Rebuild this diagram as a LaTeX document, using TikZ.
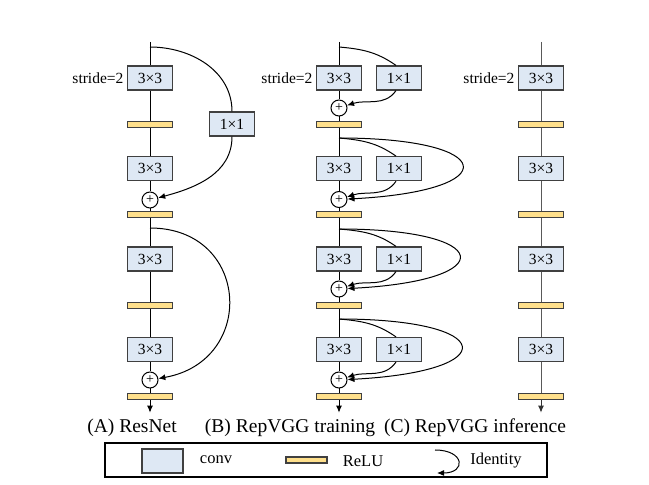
\documentclass[tikz,border=0pt]{standalone}
\usepackage{fontspec}
\setmainfont{Liberation Serif}
\usetikzlibrary{positioning,arrows.meta}
\definecolor{convfill}{HTML}{DEE8F4}
\definecolor{convline}{HTML}{404040}
\definecolor{relufill}{HTML}{FFE08C}

\begin{document}
\begin{tikzpicture}[x=1pt,y=1pt,line width=1pt,>={Latex[length=7pt,width=6pt]},
    conv/.style={draw=convline,fill=convfill,line width=1.2pt,minimum width=45pt,
                 minimum height=24pt,inner sep=0pt,font=\fontsize{15.5}{16}\selectfont},
    relu/.style={draw=convline,fill=relufill,line width=1.2pt,minimum width=45pt,
                 minimum height=6pt,inner sep=0pt},
    addnode/.style={circle,draw,fill=white,minimum size=16pt,inner sep=0pt,
                 font=\fontsize{14}{14}\selectfont},
    stridelab/.style={inner sep=1pt,font=\fontsize{15.5}{16}\selectfont},
    titlelab/.style={inner sep=1pt,font=\fontsize{19.5}{20}\selectfont},
    legendlab/.style={inner sep=1pt,font=\fontsize{16.5}{17}\selectfont}]
    \useasboundingbox (0,0) rectangle (649,485);

    % (A) ResNet
    \coordinate (at)  at (150,443);
    \coordinate (sa1) at (150,438);
    \node[conv] (a1) at (150,407) {3×3};
    \node[stridelab,left=2pt of a1] (as) {stride=2};
    \node[conv] (ax1) at (232,361) {1×1};
    \node[relu] (ar1) at (150,360.5) {};
    \node[conv] (a2) at (150,316.3) {3×3};
    \node[addnode] (aadd1) at (150,285) {+};
    \node[relu] (ar2) at (150,270.6) {};
    \coordinate (sa2) at (150,257);
    \node[conv] (a3) at (150,226) {3×3};
    \node[relu] (ar3) at (150,179.5) {};
    \node[conv] (a4) at (150,135.5) {3×3};
    \node[addnode] (aadd2) at (150,105) {+};
    \node[relu] (ar4) at (150,88.5) {};
    \coordinate (aend) at (150,72.3);
    \draw (at) -- (a1) -- (ar1) -- (a2) -- (aadd1) -- (ar2) -- (a3) -- (ar3) -- (a4) -- (aadd2) -- (ar4);
    \draw[->] (ar4) -- (aend);
    \draw (sa1) to[out=0,in=90] (ax1.north);
    \draw[->] (ax1.south) to[out=-90,in=15] (aadd1);
    \draw[->] (sa2) to[out=0,in=10,looseness=1.7] (aadd2);

    % (B) RepVGG training
    \coordinate (bt)  at (339,443);
    \coordinate (sb1) at (339,438);
    \node[conv] (b1)  at (339,407) {3×3};
    \node[conv] (bx1) at (399,407) {1×1};
    \node[stridelab,left=2pt of b1] (bs) {stride=2};
    \node[addnode] (badd1) at (339,377) {+};
    \node[relu] (br1) at (339,360.5) {};
    \coordinate (sb2) at (339,347);
    \node[conv] (b2)  at (339,316.3) {3×3};
    \node[conv] (bx2) at (399,316.3) {1×1};
    \node[addnode] (badd2) at (339,285.5) {+};
    \node[relu] (br2) at (339,270.6) {};
    \coordinate (sb3) at (339,256);
    \node[conv] (b3)  at (339,226) {3×3};
    \node[conv] (bx3) at (399,226) {1×1};
    \node[addnode] (badd3) at (339,196) {+};
    \node[relu] (br3) at (339,179.5) {};
    \coordinate (sb4) at (339,166);
    \node[conv] (b4)  at (339,135.5) {3×3};
    \node[conv] (bx4) at (399,135.5) {1×1};
    \node[addnode] (badd4) at (339,105) {+};
    \node[relu] (br4) at (339,88.5) {};
    \coordinate (bend) at (339,72.3);
    \draw (bt) -- (b1) -- (badd1) -- (br1) -- (b2) -- (badd2) -- (br2) -- (b3) -- (badd3) -- (br3) -- (b4) -- (badd4) -- (br4);
    \draw[->] (br4) -- (bend);
    \draw (sb1) to[out=-5,in=145] ([xshift=-3pt]bx1.north);
    \draw[->] ([xshift=-3pt]bx1.south) to[out=-125,in=18] (badd1);
    \draw (sb2) to[out=-5,in=145] ([xshift=-3pt]bx2.north);
    \draw[->] ([xshift=-3pt]bx2.south) to[out=-125,in=18] (badd2);
    \draw[->] (sb2) to[out=0,in=3,looseness=6.6] (badd2);
    \draw (sb3) to[out=-5,in=145] ([xshift=-3pt]bx3.north);
    \draw[->] ([xshift=-3pt]bx3.south) to[out=-125,in=18] (badd3);
    \draw[->] (sb3) to[out=0,in=3,looseness=6.6] (badd3);
    \draw (sb4) to[out=-5,in=145] ([xshift=-3pt]bx4.north);
    \draw[->] ([xshift=-3pt]bx4.south) to[out=-125,in=18] (badd4);
    \draw[->] (sb4) to[out=0,in=3,looseness=6.6] (badd4);

    % (C) RepVGG inference
    \coordinate (ct) at (541,443);
    \node[conv] (c1) at (541,407) {3×3};
    \node[stridelab,left=2pt of c1] (cs) {stride=2};
    \node[relu] (cr1) at (541,360.5) {};
    \node[conv] (c2) at (541,316.3) {3×3};
    \node[relu] (cr2) at (541,270.6) {};
    \node[conv] (c3) at (541,226) {3×3};
    \node[relu] (cr3) at (541,179.5) {};
    \node[conv] (c4) at (541,135.5) {3×3};
    \node[relu] (cr4) at (541,88.5) {};
    \coordinate (cend) at (541,72.3);
    \draw[black!65] (ct) -- (c1) -- (cr1) -- (c2) -- (cr2) -- (c3) -- (cr3) -- (c4) -- (cr4);
    \draw[->,black!80] (cr4) -- (cend);

    \node[titlelab] (ta) at (132,57) {(A) ResNet};
    \node[titlelab] (tb) at (290,57) {(B) RepVGG training};
    \node[titlelab] (tc) at (475,57) {(C) RepVGG inference};

    % legend
    \draw[line width=2.5pt] (105,8) rectangle (547,42);
    \node[conv,minimum width=41pt] (lconv) at (162.5,24) {};
    \node[legendlab] (lconvt) at (216,25) {conv};
    \node[relu,minimum width=41pt] (lrelu) at (306.5,25) {};
    \node[legendlab] (lrelut) at (363,24) {ReLU};
    \coordinate (lid1) at (435,35);
    \coordinate (lid2) at (437,12);
    \draw[->] (lid1) to[out=0,in=0,looseness=3.3] (lid2);
    \node[legendlab] (lidt) at (496,24) {Identity};
\end{tikzpicture}
\end{document}
